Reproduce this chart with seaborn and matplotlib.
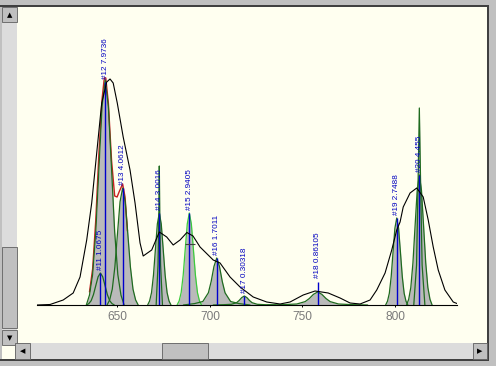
import matplotlib
matplotlib.use("Agg")
import matplotlib.pyplot as plt
from matplotlib.patches import Rectangle
import seaborn as sns

# peak components (x in nm, y in arbitrary intensity)
p11_x = [633.4, 634.65, 635.9, 637.15, 638.4, 639.65, 640.9, 642.15, 643.4, 644.65, 645.9, 647.15, 648.4]
p11_y = [0, 0.14, 0.43, 1.04, 1.94, 2.82, 3.2, 2.82, 1.94, 1.04, 0.43, 0.14, 0]
p12_x = [633.3, 635.0, 636.7, 638.4, 640.1, 641.8, 643.5, 645.2, 646.9, 648.6, 650.3, 652.0, 653.7]
p12_y = [0, 0.99, 3.04, 7.31, 13.66, 19.85, 22.5, 19.85, 13.66, 7.31, 3.04, 0.99, 0]
p13_x = [644.5, 645.9, 647.3, 648.7, 650.1, 651.5, 652.9, 654.3, 655.7, 657.1, 658.5, 659.9, 661.3]
p13_y = [0, 0.51, 1.58, 3.80, 7.10, 10.32, 11.7, 10.32, 7.10, 3.80, 1.58, 0.51, 0]
p14_x = [666.4, 667.45, 668.5, 669.55, 670.6, 671.65, 672.7, 673.75, 674.8, 675.85, 676.9, 677.95, 679.0]
p14_y = [0, 0.40, 1.24, 2.99, 5.58, 8.11, 9.2, 8.11, 5.58, 2.99, 1.24, 0.40, 0]
s14_x = [671.0, 672.0, 672.45, 672.7, 672.95, 673.4, 674.4]
s14_y = [0, 4, 9, 13.9, 9, 4, 0]
p15_x = [682.3, 683.4, 684.5, 685.6, 686.7, 687.8, 688.9, 690.0, 691.1, 692.2, 693.3, 694.4, 695.5]
p15_y = [0, 0.40, 1.24, 2.99, 5.58, 8.11, 9.2, 8.11, 5.58, 2.99, 1.24, 0.40, 0]
p16_x = [685.7, 691.7, 696.2, 699.2, 700.7, 702.2, 703.7, 705.2, 706.7, 708.2, 711.2, 715.7, 721.7]
p16_y = [0, 0.14, 0.35, 1.22, 2.35, 3.85, 4.7, 3.85, 2.35, 1.22, 0.35, 0.14, 0]
p17_x = [701.8, 707.4, 711.6, 714.4, 715.8, 717.2, 718.6, 720.0, 721.4, 722.8, 725.6, 729.8, 735.4]
p17_y = [0, 0.03, 0.07, 0.23, 0.45, 0.74, 0.9, 0.74, 0.45, 0.23, 0.07, 0.03, 0]
p18_x = [731.2, 740.2, 746.95, 751.45, 753.7, 755.95, 758.2, 760.45, 762.7, 764.95, 769.45, 776.2, 785.2]
p18_y = [0, 0.04, 0.10, 0.34, 0.65, 1.07, 1.3, 1.07, 0.65, 0.34, 0.10, 0.04, 0]
p19_x = [794.9, 795.9, 796.9, 797.9, 798.9, 799.9, 800.9, 801.9, 802.9, 803.9, 804.9, 805.9, 806.9]
p19_y = [0, 0.38, 1.17, 2.83, 5.28, 7.67, 8.7, 7.67, 5.28, 2.83, 1.17, 0.38, 0]
p20_x = [806.2, 807.35, 808.5, 809.65, 810.8, 811.95, 813.1, 814.25, 815.4, 816.55, 817.7, 818.85, 820.0]
p20_y = [0, 0.57, 1.76, 4.23, 7.89, 11.47, 13.0, 11.47, 7.89, 4.23, 1.76, 0.57, 0]
s20_x = [810.1, 811.6, 812.4, 813.1, 813.8, 814.6, 816.1]
s20_y = [0, 4, 12, 19.7, 12, 4, 0]

# measured spectrum
spec_x = [606.6, 613.7, 620.8, 626.2, 629.9, 633.5, 636.2, 638.9, 641.6, 644.3, 646.1, 647.8,
          650.0, 653.2, 656.9, 659.6, 662.3, 664.0, 668.6, 672.7, 676.7, 680.2, 683.9, 687.6,
          690.9, 694.7, 701.8, 705.5, 710.9, 716.3, 723.4, 730.7, 737.9, 743.3, 750.4, 756.8,
          763.9, 770.3, 775.7, 781.1, 786.5, 790.1, 794.6, 798.2, 800.9, 802.7, 804.4, 808.1,
          811.7, 815.2, 817.9, 820.6, 823.3, 826.9, 831.4, 833.4]
spec_y = [0, 0.05, 0.5, 1.2, 2.8, 6.5, 10.2, 15.2, 20.2, 22.3, 22.6, 22.2,
          20.2, 16.8, 13.5, 10.2, 6.2, 4.9, 5.5, 7.3, 6.8, 6.0, 6.5, 7.25,
          6.9, 5.8, 4.5, 4.2, 2.8, 1.8, 0.8, 0.3, 0.1, 0.3, 1.0, 1.4,
          1.2, 0.7, 0.2, 0.1, 0.5, 1.5, 3.2, 5.5, 7.5, 8.3, 9.8, 11.2,
          11.7, 10.8, 8.5, 5.8, 3.5, 1.5, 0.3, 0.15]

# fitted sum (visible part around the main peak)
fit_x = [635.0, 636.7, 638.4, 640.1, 641.8, 643.0, 643.8, 645.2, 646.9, 648.6, 649.9, 651.2, 652.9, 654.2, 655.5]
fit_y = [1.3, 3.6, 8.5, 15.2, 20.6, 22.7, 22.7, 20.2, 14.5, 10.9, 10.8, 11.4, 12.1, 10.8, 7.4]

peak_names = ["#11", "#12", "#13", "#14", "#15", "#16", "#17", "#18", "#19", "#20"]
peak_areas = ["1.0675", "7.9736", "4.0612", "3.0016", "2.9405", "1.7011", "0.30318", "0.86105", "2.7488", "4.455"]
peak_centers = [640.9, 643.5, 652.9, 672.7, 688.9, 703.7, 718.6, 758.2, 800.9, 813.1]
peak_tops = [3.2, 22.3, 11.7, 9.2, 9.2, 4.7, 0.9, 2.33, 8.7, 13.0]

x_ticks = [650, 700, 750, 800]

W, H = 496, 366
sns.set_theme(style="white")
plt.rcParams['font.family'] = ['Liberation Sans', 'DejaVu Sans']

fig = plt.figure(figsize=(W / 100, H / 100), dpi=100, facecolor='#C0C0C0')


def box(x, y, w, h, color, edge='none', lw=0.0):
    fig.add_artist(Rectangle((x / W, 1 - (y + h) / H), w / W, h / H, transform=fig.transFigure,
                             facecolor=color, edgecolor=edge, linewidth=lw, zorder=-10))


# window chrome
box(0, 5, 489, 2, '#404040')
box(487, 5, 2, 356, '#404040')
box(0, 359, 489, 2, '#404040')
box(17, 7, 470, 336, '#FFFFF0')
box(2, 345, 15, 14, '#FFFFF0')
box(2, 7, 15, 338, '#DCDCDC')
box(15, 343, 472, 16, '#DCDCDC')
for bx, by, bw, bh in [(2, 7, 15, 15), (2, 247, 15, 81), (2, 330, 15, 15),
                       (15, 343, 15, 16), (162, 343, 46, 16), (473, 343, 14, 16)]:
    box(bx, by, bw, bh, '#C0C0C0', edge='#606060', lw=0.6)
for sym, tx, ty in [('▲', 9.5, 15), ('▼', 9.5, 338), ('◀', 22.5, 351), ('▶', 480, 351)]:
    fig.text(tx / W, 1 - ty / H, sym, fontsize=5, ha='center', va='center', color='black',
             family='DejaVu Sans')

ax = fig.add_axes([36.7 / W, (H - 305) / H, (457.3 - 36.7) / W, 285 / H])
ax.set_facecolor('none')
ax.set_xlim(606.5, 833.6)
ax.set_ylim(0, 28.5)

gray = '#BABABA'
dgreen = '#1F6B1F'
comps = [(p11_x, p11_y), (p12_x, p12_y), (p13_x, p13_y), (p14_x, p14_y), (s14_x, s14_y),
         (p15_x, p15_y), (p16_x, p16_y), (p17_x, p17_y), (p18_x, p18_y), (p19_x, p19_y),
         (p20_x, p20_y), (s20_x, s20_y)]
for cx, cy in comps:
    ax.fill_between(cx, 0, cy, color=gray, lw=0, zorder=1)

sns.lineplot(x=fit_x, y=fit_y, ax=ax, color='#C82020', lw=1.0, sort=False, estimator=None, zorder=2)
for cx, cy in comps:
    col = '#3CCB3C' if cx is p15_x else dgreen
    sns.lineplot(x=cx, y=cy, ax=ax, color=col, lw=0.9, sort=False, estimator=None, zorder=3)

ax.vlines(peak_centers, 0, peak_tops, color='#0000CC', lw=1.0, zorder=4)
ax.hlines(6.1, 686.6, 692.0, color='#404040', lw=0.8, zorder=4)
sns.lineplot(x=spec_x, y=spec_y, ax=ax, color='black', lw=0.8, sort=False, estimator=None, zorder=5)

for name, area, c, t in zip(peak_names, peak_areas, peak_centers, peak_tops):
    ax.annotate(f"{name} {area}", (c, t), xytext=(0, 2.5), textcoords='offset points',
                rotation=90, ha='center', va='bottom', fontsize=5.9, color='#0000C0',
                zorder=6, annotation_clip=False)

for s in ['top', 'left', 'right']:
    ax.spines[s].set_visible(False)
ax.spines['bottom'].set_color('black')
ax.spines['bottom'].set_linewidth(0.8)
ax.set_yticks([])
ax.set_xticks(x_ticks)
ax.set_xticklabels([str(t) for t in x_ticks])
ax.tick_params(axis='x', direction='inout', length=3, width=0.7, color='black', pad=3,
               labelsize=8.6, labelcolor='#7A7A7A', bottom=True)
ax.set_xlabel('')
ax.set_ylabel('')

plt.savefig('out.png', dpi=100, facecolor=fig.get_facecolor())
